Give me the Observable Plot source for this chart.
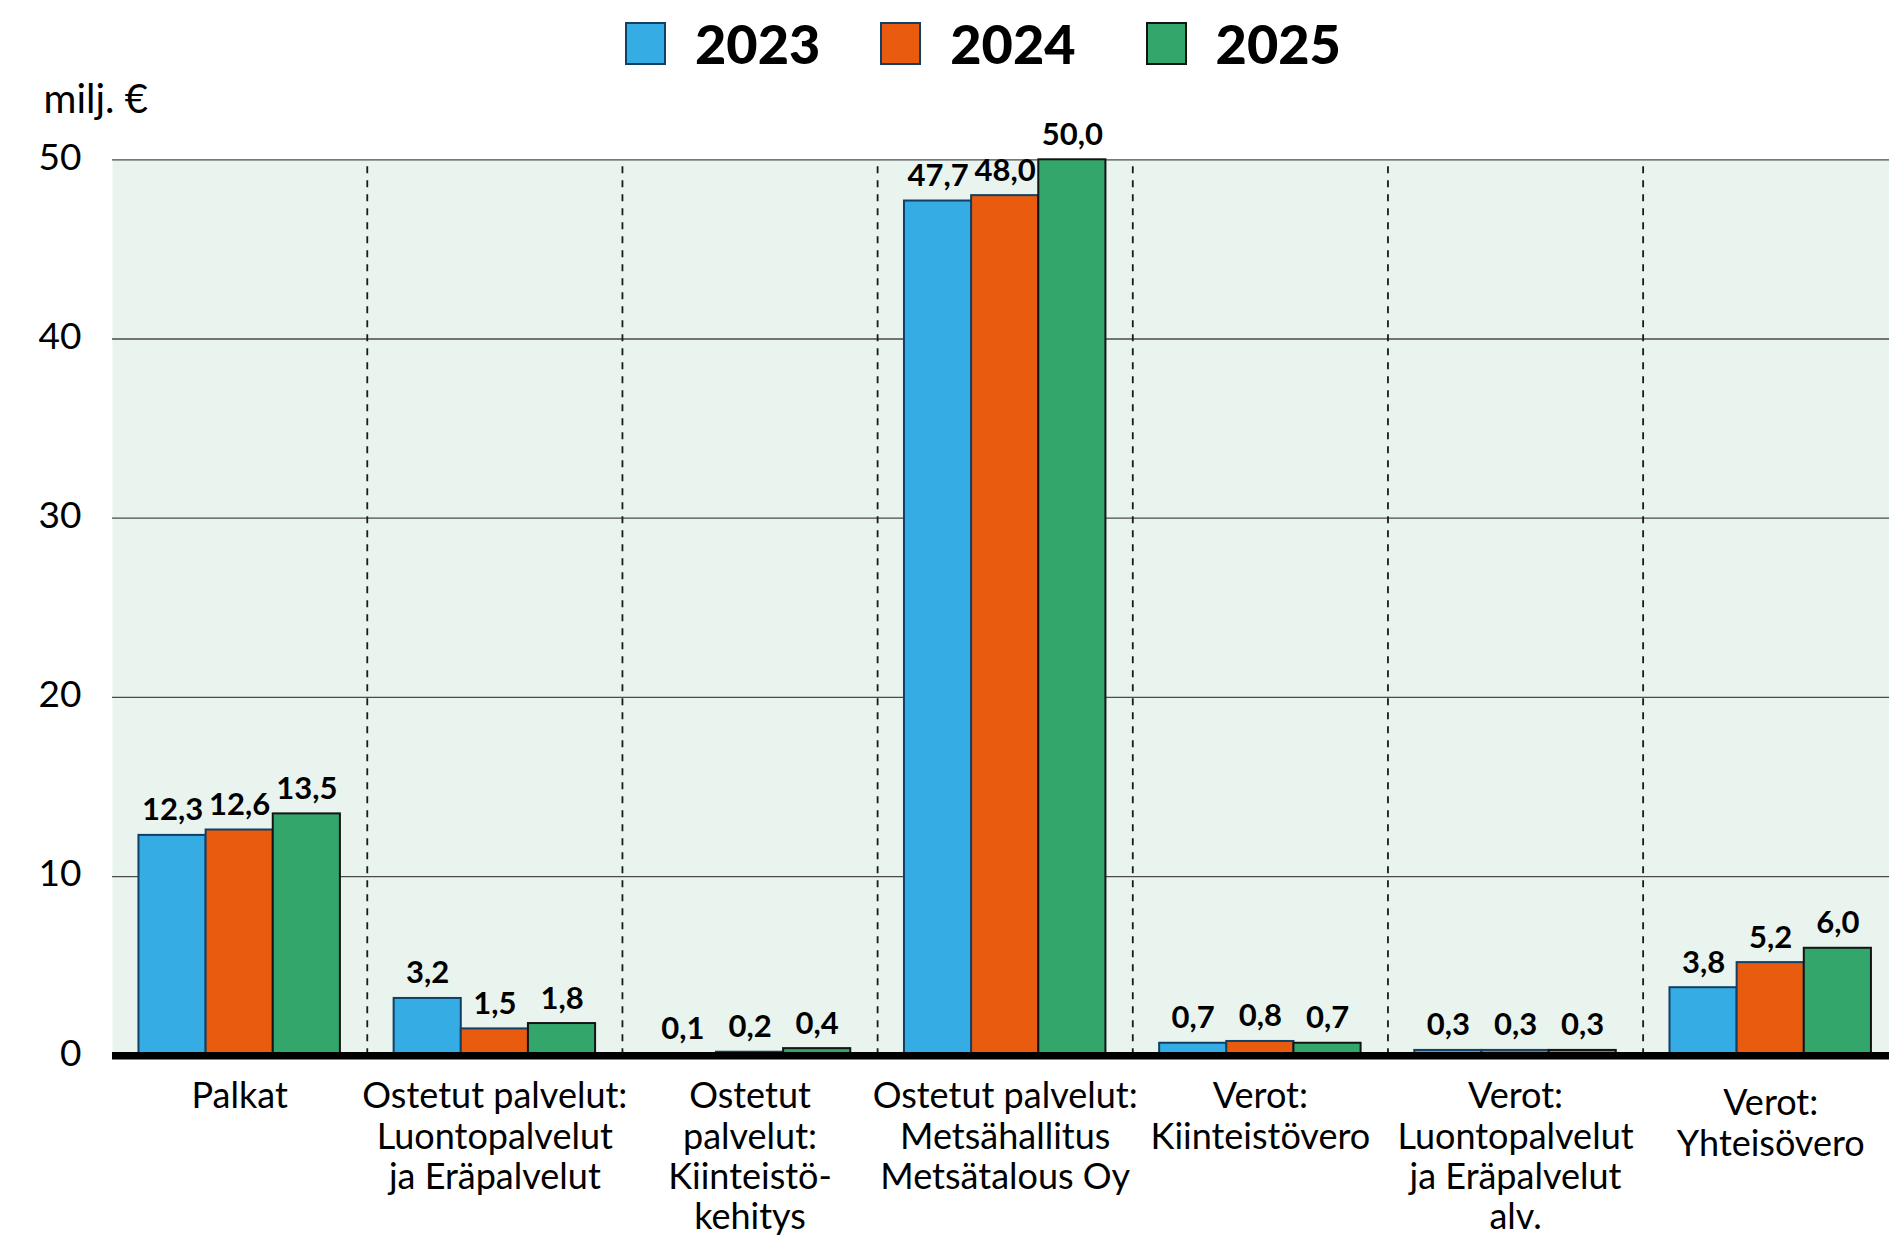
<!DOCTYPE html>
<html>
<head>
<meta charset="utf-8">
<script src="https://cdn.jsdelivr.net/npm/d3@7"></script>
<script src="https://cdn.jsdelivr.net/npm/@observablehq/plot@0.6"></script>
<style>
  html, body { margin: 0; padding: 0; background: #fff; }
  body { font-family: Lato, "Open Sans", sans-serif; color: #000; width: 1889px; }
  #legend { position: relative; height: 75px; width: 1889px; }
  #legend .row { position: absolute; left: 625px; top: 22px; display: flex; align-items: flex-start; }
  #legend .sw { width: 41px; height: 43px; box-sizing: border-box; border: 2px solid #123f64; margin-right: 29px; }
  #legend .lab { font-size: 54px; line-height: 43px; font-weight: 900; margin-right: 60px; white-space: nowrap; }
  #legend .lab.wide { margin-right: 70px; }
</style>
</head>
<body>
<div id="legend"><div class="row"></div></div>
<div id="chart"></div>
<script>
// ---- data ----
const categories = [
  "Palkat",
  "Ostetut palvelut:\nLuontopalvelut\nja Eräpalvelut",
  "Ostetut\npalvelut:\nKiinteistö-\nkehitys",
  "Ostetut palvelut:\nMetsähallitus\nMetsätalous Oy",
  "Verot:\nKiinteistövero",
  "Verot:\nLuontopalvelut\nja Eräpalvelut\nalv.",
  "Verot:\nYhteisövero"
];
const years = ["2023", "2024", "2025"];
const values2023 = [12.3, 3.2, 0.1, 47.7, 0.7, 0.3, 3.8];
const values2024 = [12.6, 1.5, 0.2, 48.0, 0.8, 0.3, 5.2];
const values2025 = [13.5, 1.8, 0.4, 50.0, 0.7, 0.3, 6.0];
const yTicks = [0, 10, 20, 30, 40, 50];
const unitLabel = "milj. €";

// ---- styles ----
const fills = ["#35ace3", "#e95c0f", "#33a66b"];
const strokes = ["#123f64", "#123f64", "#141414"];

// ---- legend ----
const row = document.querySelector("#legend .row");
years.forEach((yr, j) => {
  const sw = document.createElement("div");
  sw.className = "sw";
  sw.style.background = fills[j];
  sw.style.borderColor = strokes[j];
  const lab = document.createElement("div");
  lab.className = "lab" + (j === 1 ? " wide" : "");
  lab.textContent = yr;
  row.appendChild(sw);
  row.appendChild(lab);
});

// ---- table ----
const series = [values2023, values2024, values2025];
const inner = d3.scaleBand().domain(years).range([0, 1]).paddingInner(0).paddingOuter(0.4);
const rows = [];
categories.forEach((c, i) => {
  years.forEach((yr, j) => {
    const x1 = i + inner(yr);
    rows.push({cat: c, idx: i, year: yr, value: series[j][i], x1, x2: x1 + inner.bandwidth()});
  });
});
const separators = d3.range(1, categories.length);
const centers = categories.map((c, i) => i + 0.5);
const lastIdx = categories.length - 1;
const fmt = v => v.toFixed(1).replace(".", ",");

const W = 1889, H = 1162;
const mTop = 84.3, yZero = 980.3;

const xAxisOpts = {tickSize: 0, fontSize: 36, lineHeight: 1.12, label: null,
  tickFormat: d => categories[Math.floor(d)], fill: "#000"};

const chart = Plot.plot({
  width: W,
  height: H,
  marginLeft: 112,
  marginRight: 0,
  marginTop: mTop,
  marginBottom: H - yZero,
  style: {fontFamily: "Lato, 'Open Sans', sans-serif", background: "#fff", color: "#000", overflow: "visible"},
  x: {domain: [0, categories.length], range: [111.6, 1897.8]},
  y: {domain: [0, 50], range: [yZero, mTop]},
  marks: [
    Plot.frame({fill: "#e9f4ee", stroke: null}),
    Plot.gridY(yTicks, {stroke: "#4a4a4a", strokeOpacity: 1, strokeWidth: 1.3}),
    Plot.ruleX(separators, {y1: 0, y2: 50, stroke: "#1a1a1a", strokeWidth: 1.8, strokeDasharray: "7,7"}),
    ...years.map((yr, j) => Plot.rect(rows.filter(r => r.year === yr), {
      x1: "x1", x2: "x2", y1: 0, y2: "value",
      fill: fills[j], stroke: strokes[j], strokeWidth: 2
    })),
    Plot.ruleY([0], {stroke: "#000", strokeWidth: 7.5}),
    Plot.text(rows, {
      x: d => (d.x1 + d.x2) / 2, y: "value", text: d => fmt(d.value),
      lineAnchor: "bottom", dy: -15, fontSize: 31, fontWeight: 700, fill: "#000"
    }),
    Plot.axisY(yTicks, {tickSize: 0, tickPadding: 31, fontSize: 37, label: null, dy: -2, fill: "#000"}),
    Plot.axisX(centers.slice(0, lastIdx), {...xAxisOpts, tickPadding: 24}),
    Plot.axisX(centers.slice(lastIdx), {...xAxisOpts, tickPadding: 31}),
    Plot.text([unitLabel], {
      frameAnchor: "top-left", dx: -69, dy: -46.6, textAnchor: "start",
      lineAnchor: "bottom", fontSize: 40, fill: "#000"
    })
  ]
});
document.getElementById("chart").appendChild(chart);
</script>
</body>
</html>
